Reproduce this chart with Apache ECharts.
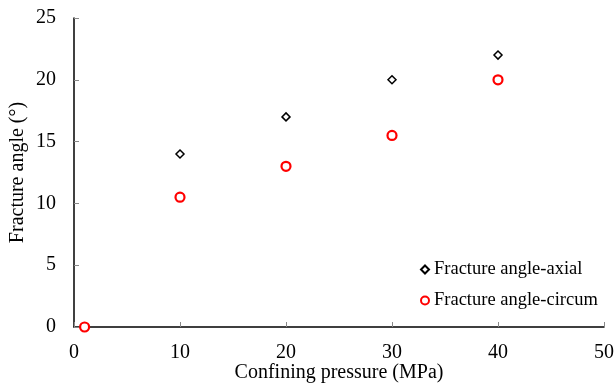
<!DOCTYPE html>
<html>
<head>
<meta charset="utf-8">
<script src="https://cdn.jsdelivr.net/npm/echarts@6/dist/echarts.min.js"></script>
<style>
  html, body { margin: 0; padding: 0; background: #fff; }
  #chart { width: 615px; height: 386px; }
</style>
</head>
<body>
<div id="chart"></div>
<script>
// confining pressure (MPa) and fracture angles (deg)
const axialPressure = [1, 10, 20, 30, 40];
const axialAngle = [0, 14, 17, 20, 22];
const circumPressure = [1, 10, 20, 30, 40];
const circumAngle = [0, 10.5, 13, 15.5, 20];

const chart = echarts.init(document.getElementById('chart'));
const font = 'Liberation Serif, Times New Roman, serif';

const option = {
  backgroundColor: '#fff',
  animation: false,
  textStyle: { fontFamily: font },
  grid: { left: 74, right: 11, top: 18, bottom: 59, outerBoundsMode: 'none', containLabel: false },
  legend: {
    orient: 'vertical',
    left: 420,
    top: 260,
    padding: 0,
    itemGap: 12,
    itemWidth: 8,
    itemHeight: 8,
    textStyle: { fontFamily: font, fontSize: 18.5, color: '#000' },
    data: ['Fracture angle-axial', 'Fracture angle-circum']
  },
  xAxis: {
    type: 'value',
    min: 0,
    max: 50,
    interval: 10,
    name: 'Confining pressure (MPa)',
    nameLocation: 'middle',
    nameGap: 36,
    nameMoveOverlap: false,
    nameTextStyle: { fontFamily: font, fontSize: 20, color: '#000' },
    axisLine: { onZero: false, lineStyle: { color: '#000', width: 1.5 } },
    axisTick: { show: true, inside: true, length: 5, lineStyle: { color: '#888' } },
    axisLabel: { fontFamily: font, fontSize: 20, color: '#000', margin: 16 },
    splitLine: { show: false }
  },
  yAxis: {
    type: 'value',
    min: 0,
    max: 25,
    interval: 5,
    name: 'Fracture angle (°)',
    nameLocation: 'middle',
    nameGap: 46,
    nameMoveOverlap: false,
    nameTextStyle: { fontFamily: font, fontSize: 20, color: '#000' },
    axisLine: { show: true, lineStyle: { color: '#000', width: 1.5 } },
    axisTick: { show: true, inside: true, length: 5, lineStyle: { color: '#888' } },
    axisLabel: { fontFamily: font, fontSize: 20, color: '#000', margin: 18 },
    splitLine: { show: false }
  },
  series: [
    {
      name: 'Fracture angle-axial',
      type: 'scatter',
      symbol: 'diamond',
      symbolSize: 8,
      itemStyle: { color: '#fff', borderColor: '#000', borderWidth: 1.5, opacity: 1 },
      data: axialPressure.map((p, i) => [p, axialAngle[i]]),
      z: 2
    },
    {
      name: 'Fracture angle-circum',
      type: 'scatter',
      symbol: 'circle',
      symbolSize: 9,
      itemStyle: { color: '#fff', borderColor: '#ff0000', borderWidth: 2.2, opacity: 1 },
      data: circumPressure.map((p, i) => [p, circumAngle[i]]),
      z: 3
    }
  ]
};

chart.setOption(option);
</script>
</body>
</html>
